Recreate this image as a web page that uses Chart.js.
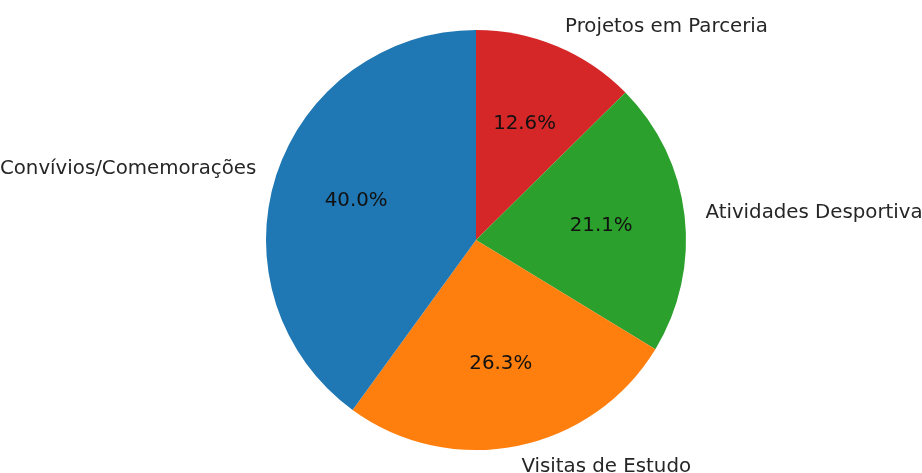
<!DOCTYPE html>
<html>
<head>
<meta charset="utf-8">
<script src="https://cdn.jsdelivr.net/npm/chart.js@4"></script>
<style>
  html, body { margin: 0; padding: 0; background: #fff; }
  #wrap { width: 922px; height: 473px; }
</style>
</head>
<body>
<div id="wrap"><canvas id="myChart"></canvas></div>
<script>
// dados do gráfico (ordem do matplotlib, sentido anti-horário a partir do topo)
const categorias = ['Convívios/Comemorações', 'Visitas de Estudo', 'Atividades Desportivas', 'Projetos em Parceria']
const percentuais = [40.0, 26.3, 21.1, 12.6]
const cores = ['#1f77b4', '#ff7f0e', '#2ca02c', '#d62728']

// Chart.js desenha no sentido horário, então invertemos a ordem
const labelsCW = categorias.slice().reverse()
const valoresCW = percentuais.slice().reverse()
const coresCW = cores.slice().reverse()

const fonte = '19.8px "DejaVu Sans"'

// rótulos estilo matplotlib: nome a 1.1r, porcentagem a 0.6r
const rotulos = {
    id: 'rotulos',
    afterDatasetsDraw(chart) {
        const ctx = chart.ctx
        const meta = chart.getDatasetMeta(0)
        ctx.save()
        ctx.font = fonte
        ctx.textBaseline = 'middle'
        meta.data.forEach((arc, i) => {
            const p = arc.getProps(['x', 'y', 'startAngle', 'endAngle', 'outerRadius'], true)
            const mid = (p.startAngle + p.endAngle) / 2
            const c = Math.cos(mid), s = Math.sin(mid)
            // nome da categoria
            ctx.fillStyle = '#262626'
            ctx.textAlign = c >= 0 ? 'left' : 'right'
            ctx.fillText(chart.data.labels[i], p.x + c * p.outerRadius * 1.1, p.y + s * p.outerRadius * 1.1)
            // porcentagem
            ctx.fillStyle = '#111'
            ctx.textAlign = 'center'
            const v = chart.data.datasets[0].data[i]
            ctx.fillText(v.toFixed(1) + '%', p.x + c * p.outerRadius * 0.6, p.y + s * p.outerRadius * 0.6)
        })
        ctx.restore()
    }
}

const ctx = document.getElementById('myChart')
new Chart(ctx, {
    type: 'pie',
    data: {
        labels: labelsCW,
        datasets: [{
            data: valoresCW,
            backgroundColor: coresCW,
            borderWidth: 0
        }]
    },
    options: {
        responsive: true,
        maintainAspectRatio: false,
        animation: false,
        rotation: 0,
        layout: { padding: { top: 30, bottom: 23, left: 30, right: 0 } },
        plugins: {
            legend: { display: false },
            tooltip: { enabled: false }
        }
    },
    plugins: [rotulos]
})
</script>
</body>
</html>
